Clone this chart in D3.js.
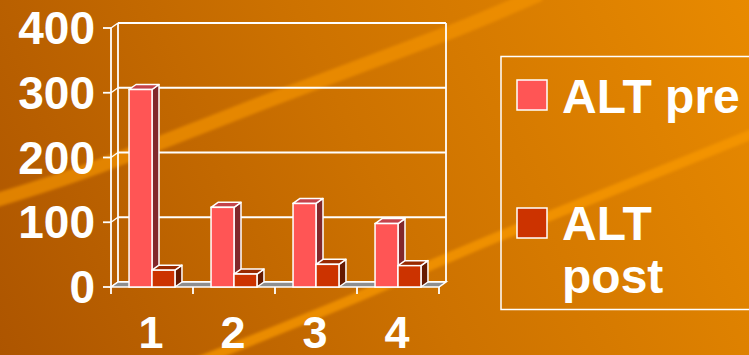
<!DOCTYPE html>
<html><head><meta charset="utf-8">
<script src="https://cdn.jsdelivr.net/npm/d3@7"></script>
<style>html,body{margin:0;padding:0;overflow:hidden;background:#c46b00}</style>
</head><body>
<svg id="c" width="749" height="355"></svg>
<script>
const categories = ["1", "2", "3", "4"];
const seriesNames = ["ALT pre", "ALT post"];
const altPre = [305, 123, 129, 98];
const altPost = [26, 20, 35, 33];
const yTicks = [0, 100, 200, 300, 400];

const svg = d3.select("#c");
const W = 749, H = 355;
const font = "'Liberation Sans', Arial, sans-serif";

// background
const defs = svg.append("defs");
const g = defs.append("linearGradient").attr("id", "bg")
  .attr("gradientUnits", "userSpaceOnUse")
  .attr("x1", 0).attr("y1", H).attr("x2", W).attr("y2", 0);
g.append("stop").attr("offset", 0).attr("stop-color", "#ad5500");
g.append("stop").attr("offset", 0.5).attr("stop-color", "#cd7200");
g.append("stop").attr("offset", 1).attr("stop-color", "#e88a00");
const blur = defs.append("filter").attr("id", "soft").attr("x", -0.1).attr("y", -0.1).attr("width", 1.2).attr("height", 1.2);
blur.append("feGaussianBlur").attr("stdDeviation", 1.5);
svg.append("rect").attr("width", W).attr("height", H).attr("fill", "url(#bg)");

const swoosh = d3.line().curve(d3.curveNatural);
svg.append("path")
  .attr("d", swoosh([[-10, 202], [100, 166], [270, 100], [440, 36], [540, -6]]))
  .attr("fill", "none").attr("stroke", "#f39300").attr("stroke-opacity", 0.7)
  .attr("stroke-width", 14).attr("filter", "url(#soft)");
svg.append("path")
  .attr("d", swoosh([[190, 365], [353, 299], [490, 240], [760, 131]]))
  .attr("fill", "none").attr("stroke", "#f89800").attr("stroke-opacity", 0.75)
  .attr("stroke-width", 10).attr("filter", "url(#soft)");

// scales
const y = d3.scaleLinear().domain([0, 400]).range([287, 28]);
const x = d3.scaleBand().domain(categories).range([111, 439])
  .paddingInner(0.44).paddingOuter(0.22);
const xs = d3.scaleBand().domain(seriesNames).range([0, x.bandwidth()]);
const dx = 7, dy = -5;
const x0 = x.range()[0], x1 = x.range()[1];

const chart = svg.append("g");
const white = "#ffffff";
const sw = 1.8;

// back wall gridlines
chart.selectAll("line.grid").data(yTicks).join("line")
  .attr("x1", x0 + dx).attr("x2", x1 + dx)
  .attr("y1", d => y(d) + dy).attr("y2", d => y(d) + dy)
  .attr("stroke", white).attr("stroke-width", sw);
// back wall verticals
[x0 + dx, x1 + dx].forEach(xx => chart.append("line")
  .attr("x1", xx).attr("x2", xx).attr("y1", y(400) + dy).attr("y2", y(0) + dy)
  .attr("stroke", white).attr("stroke-width", sw));
// side wall diagonals
chart.selectAll("line.diag").data(yTicks).join("line")
  .attr("x1", x0).attr("x2", x0 + dx)
  .attr("y1", d => y(d)).attr("y2", d => y(d) + dy)
  .attr("stroke", white).attr("stroke-width", 1.4);
// front vertical axis
chart.append("line").attr("x1", x0).attr("x2", x0).attr("y1", y(400)).attr("y2", y(0))
  .attr("stroke", white).attr("stroke-width", sw);
// y ticks
chart.selectAll("line.yt").data(yTicks).join("line")
  .attr("x1", x0 - 8).attr("x2", x0).attr("y1", d => y(d)).attr("y2", d => y(d))
  .attr("stroke", white).attr("stroke-width", sw);

// floor
chart.append("path")
  .attr("d", `M${x0},${y(0)}L${x1},${y(0)}L${x1 + dx},${y(0) + dy}L${x0 + dx},${y(0) + dy}Z`)
  .attr("fill", "#8e8e8e").attr("stroke", white).attr("stroke-width", 1.5);
// x ticks
const bounds = d3.range(categories.length + 1).map(i => x0 + i * x.step());
chart.selectAll("line.xt").data(bounds).join("line")
  .attr("x1", d => d).attr("x2", d => d).attr("y1", y(0)).attr("y2", y(0) + 7)
  .attr("stroke", white).attr("stroke-width", sw);

// bars
const colors = {
  "ALT pre": { front: "#ff5555", top: "#c4434b", side: "#82282b" },
  "ALT post": { front: "#cc3300", top: "#992a00", side: "#661a00" }
};
const barData = [];
categories.forEach((c, i) => {
  barData.push({ c, s: "ALT pre", v: altPre[i] });
  barData.push({ c, s: "ALT post", v: altPost[i] });
});
const bars = chart.selectAll("g.bar").data(barData).join("g").attr("class", "bar");
bars.each(function (d) {
  const gg = d3.select(this);
  const bx = x(d.c) + xs(d.s), bw = xs.bandwidth();
  const yt = y(d.v), yb = y(0);
  const col = colors[d.s];
  gg.append("path")
    .attr("d", `M${bx + bw},${yt}L${bx + bw + dx},${yt + dy}L${bx + bw + dx},${yb + dy}L${bx + bw},${yb}Z`)
    .attr("fill", col.side).attr("stroke", white).attr("stroke-width", 1.5).attr("stroke-linejoin", "round");
  gg.append("path")
    .attr("d", `M${bx},${yt}L${bx + dx},${yt + dy}L${bx + bw + dx},${yt + dy}L${bx + bw},${yt}Z`)
    .attr("fill", col.top).attr("stroke", white).attr("stroke-width", 1.5).attr("stroke-linejoin", "round");
  gg.append("rect").attr("x", bx).attr("y", yt).attr("width", bw).attr("height", yb - yt)
    .attr("fill", col.front).attr("stroke", white).attr("stroke-width", 1.5);
});

// y labels
chart.selectAll("text.yl").data(yTicks).join("text")
  .attr("x", 95).attr("y", d => y(d)).attr("dy", "0.35em")
  .attr("text-anchor", "end").attr("fill", white)
  .attr("font-family", font).attr("font-weight", "bold").attr("font-size", 46)
  .text(d => d);
// x labels
chart.selectAll("text.xl").data(categories).join("text")
  .attr("x", d => x(d) + x.bandwidth() / 2 - 1).attr("y", 348)
  .attr("text-anchor", "middle").attr("fill", white)
  .attr("font-family", font).attr("font-weight", "bold").attr("font-size", 45)
  .text(d => d);

// legend
const leg = svg.append("g");
leg.append("rect").attr("x", 501).attr("y", 56.5).attr("width", 300).attr("height", 253)
  .attr("fill", "none").attr("stroke", white).attr("stroke-width", 1.5);
const legItems = [
  { s: "ALT pre", lines: ["ALT pre"], sy: 80, by: 113 },
  { s: "ALT post", lines: ["ALT", "post"], sy: 208, by: 240 }
];
legItems.forEach(it => {
  leg.append("rect").attr("x", 517).attr("y", it.sy).attr("width", 30).attr("height", 30)
    .attr("fill", colors[it.s].front).attr("stroke", white).attr("stroke-width", 1.5);
  const t = leg.append("text").attr("x", 562).attr("y", it.by).attr("fill", white)
    .attr("font-family", font).attr("font-weight", "bold").attr("font-size", 48);
  it.lines.forEach((ln, j) => t.append("tspan").attr("x", 562).attr("dy", j === 0 ? 0 : 53).text(ln));
});
</script>
</body></html>
